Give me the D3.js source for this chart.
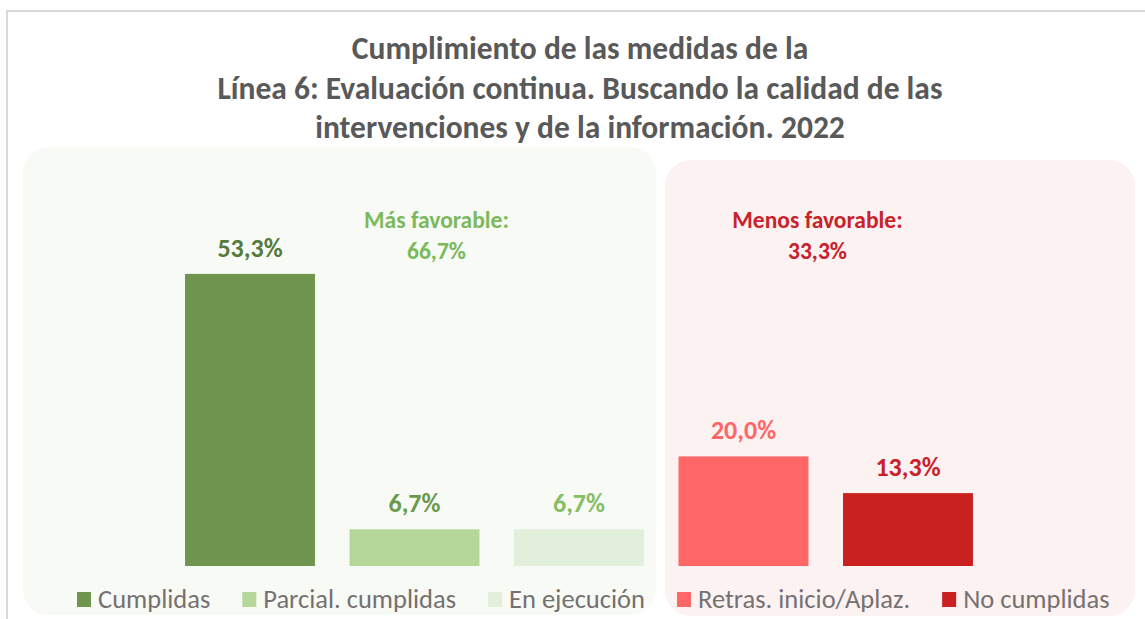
<!DOCTYPE html>
<html>
<head>
<meta charset="utf-8">
<script src="https://d3js.org/d3.v7.min.js"></script>
<style>
  body { margin: 0; background: #fff; }
  svg { display: block; font-family: Carlito, Calibri, Lato, sans-serif; }
</style>
</head>
<body>
<div id="chart"></div>
<script>
var width = 1145, height = 619;

// data
var categories = ["Cumplidas", "Parcial. cumplidas", "En ejecución", "Retras. inicio/Aplaz.", "No cumplidas"];
var values = [53.3, 6.7, 6.7, 20.0, 13.3];
var groups = ["favorable", "favorable", "favorable", "desfavorable", "desfavorable"];
var groupTitles = ["Más favorable:", "Menos favorable:"];
var groupTotals = [66.7, 33.3];
var titleLines = ["Cumplimiento de las medidas de la",
                  "Línea 6: Evaluación continua. Buscando la calidad de las",
                  "intervenciones y de la información. 2022"];

var barColors = ["#70954f", "#b5d79a", "#e2efda", "#ff6666", "#c92020"];
var labelColors = ["#557a3c", "#6a9a4c", "#86be64", "#ff6666", "#c8222a"];
var groupColors = ["#7cb95b", "#c8232a"];

var fmt = function(v) { return d3.format(".1f")(v).replace(".", ",") + "%"; };

var svg = d3.select("#chart").append("svg")
  .attr("width", width)
  .attr("height", height);

// outer frame
svg.append("path")
  .attr("d", "M7," + height + "V11H" + width)
  .attr("fill", "none")
  .attr("stroke", "#d9d9d9")
  .attr("stroke-width", 2);

// panels
svg.append("rect")
  .attr("x", 23).attr("y", 147)
  .attr("width", 633).attr("height", 468)
  .attr("rx", 26)
  .attr("fill", "#f8faf6");
svg.append("rect")
  .attr("x", 665).attr("y", 160)
  .attr("width", 470).attr("height", 456)
  .attr("rx", 26)
  .attr("fill", "#fdf2f2");

// title
svg.append("g").selectAll("text")
  .data(titleLines)
  .enter().append("text")
  .attr("x", 580)
  .attr("y", (d, i) => 59 + i * 39.5)
  .attr("text-anchor", "middle")
  .attr("font-size", 31.5)
  .attr("font-weight", "bold")
  .attr("fill", "#595959")
  .text(d => d);

// scales
var x = d3.scaleBand()
  .domain(categories)
  .range([167.75, 990.25])
  .paddingInner(0.21)
  .paddingOuter(0.105);

var y = d3.scaleLinear()
  .domain([0, 100])
  .range([566, 18]);

// bars
svg.append("g").selectAll("rect")
  .data(categories)
  .enter().append("rect")
  .attr("x", d => x(d))
  .attr("y", (d, i) => y(values[i]))
  .attr("width", x.bandwidth())
  .attr("height", (d, i) => y(0) - y(values[i]))
  .attr("fill", (d, i) => barColors[i]);

// value labels
svg.append("g").selectAll("text")
  .data(categories)
  .enter().append("text")
  .attr("x", d => x(d) + x.bandwidth() / 2)
  .attr("y", (d, i) => y(values[i]) - 17)
  .attr("text-anchor", "middle")
  .attr("font-size", 26)
  .attr("font-weight", "bold")
  .attr("fill", (d, i) => labelColors[i])
  .text((d, i) => fmt(values[i]));

// group annotations
var groupX = [x(categories[1]) + x.bandwidth() / 2 + 22, x(categories[3]) + x.bandwidth() + 9];
var ga = svg.append("g").selectAll("text")
  .data(groupTitles)
  .enter().append("text")
  .attr("x", (d, i) => groupX[i])
  .attr("y", 228)
  .attr("text-anchor", "middle")
  .attr("font-size", 23.5)
  .attr("font-weight", "bold")
  .attr("fill", (d, i) => groupColors[i]);
ga.append("tspan").text(d => d);
ga.append("tspan")
  .attr("x", (d, i) => groupX[i])
  .attr("dy", 31)
  .text((d, i) => fmt(groupTotals[i]));

// legend, flowed within each panel
var legendStart = {favorable: 77, desfavorable: 677};
var legend = svg.append("g");
var cursor = Object.assign({}, legendStart);
categories.forEach(function(c, i) {
  var g = groups[i];
  var item = legend.append("g").attr("transform", "translate(" + cursor[g] + ",0)");
  item.append("rect")
    .attr("x", 0).attr("y", 592)
    .attr("width", 14).attr("height", 15)
    .attr("fill", barColors[i]);
  var t = item.append("text")
    .attr("x", 21).attr("y", 608)
    .attr("font-size", 26.5)
    .attr("fill", "#757171")
    .text(c);
  cursor[g] += 21 + t.node().getComputedTextLength() + 32;
});
</script>
</body>
</html>
